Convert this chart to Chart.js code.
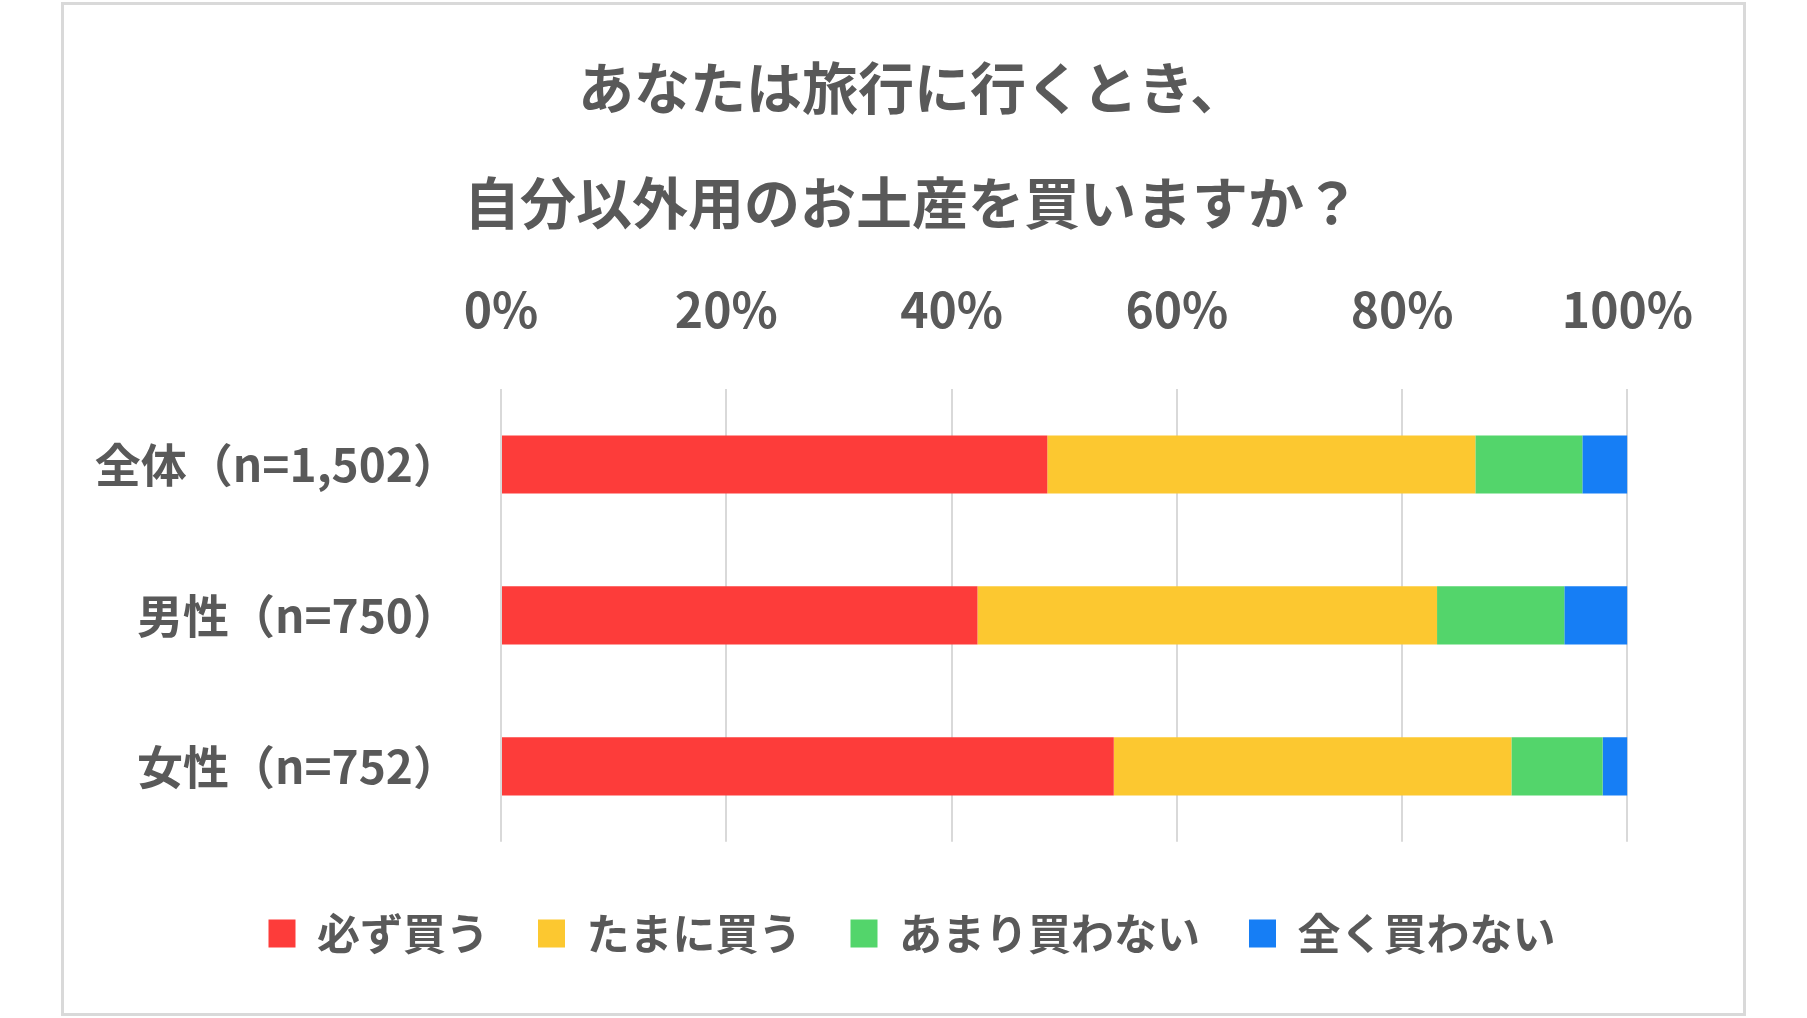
<!DOCTYPE html>
<html lang="ja">
<head>
<meta charset="utf-8">
<title>お土産アンケート</title>
<script src="https://cdn.jsdelivr.net/npm/chart.js@4.4.1/dist/chart.umd.min.js"></script>
<style>
  html, body { margin: 0; padding: 0; background: #fff; overflow: hidden; }
  #frame {
    position: absolute; left: 61px; top: 2px;
    width: 1679px; height: 1008px;
    border: 3px solid #d9d9d9;
  }
  #chart { display: block; }
</style>
</head>
<body>
<div id="frame"><canvas id="chart" width="1679" height="1008"></canvas></div>
<script>
// 値は全体を100%とした割合（%）
var categories = ['全体（n=1,502）', '男性（n=750）', '女性（n=752）'];
var seriesNames = ['必ず買う', 'たまに買う', 'あまり買わない', '全く買わない'];
var always = [48.5, 42.3, 54.4];
var sometimes = [38.0, 40.8, 35.3];
var rarely = [9.5, 11.3, 8.1];
var never = [4.0, 5.6, 2.2];
var xTicks = [0, 20, 40, 60, 80, 100];

var colors = ['#fd3c3a', '#fcc830', '#53d56b', '#167ef5'];
var textColor = '#595959';
var jpFont = "'Noto Sans CJK JP', 'Noto Sans', sans-serif";

// y軸ラベルが軸の幅からはみ出しても切れないようにする
var unclipLabels = {
    id: 'unclipLabels',
    afterLayout: function (chart) {
        chart.scales.y.left = 0;
    }
};

document.addEventListener('DOMContentLoaded', function () {
    var ctx = document.getElementById('chart').getContext('2d');
    var values = [always, sometimes, rarely, never];

    new Chart(ctx, {
        type: 'bar',
        data: {
            labels: categories,
            datasets: seriesNames.map(function (name, i) {
                return {
                    label: name,
                    data: values[i],
                    backgroundColor: colors[i],
                    borderWidth: 0,
                    categoryPercentage: 1,
                    barPercentage: 0.385
                };
            })
        },
        options: {
            indexAxis: 'y',
            responsive: false,
            animation: false,
            layout: { padding: { top: 0, left: 130, right: 113, bottom: 48 } },
            scales: {
                x: {
                    stacked: true,
                    position: 'top',
                    min: 0,
                    max: 100,
                    afterBuildTicks: function (scale) {
                        scale.ticks = xTicks.map(function (v) { return { value: v }; });
                    },
                    afterFit: function (scale) { scale.height = 114; },
                    grid: { color: '#d9d9d9', lineWidth: 2, drawTicks: false },
                    border: { display: false },
                    ticks: {
                        padding: 50,
                        color: textColor,
                        font: { family: jpFont, size: 48, weight: 'bold' },
                        callback: function (v) { return v + '%'; }
                    }
                },
                y: {
                    stacked: true,
                    afterFit: function (scale) { scale.width = 307; },
                    grid: { display: false },
                    border: { display: false },
                    ticks: {
                        padding: 34,
                        color: textColor,
                        font: { family: jpFont, size: 46, weight: 'bold' }
                    }
                }
            },
            plugins: {
                title: {
                    display: true,
                    text: ['あなたは旅行に行くとき、', '自分以外用のお土産を買いますか？'],
                    color: textColor,
                    font: { family: jpFont, size: 56, weight: 'bold', lineHeight: 115 / 56 },
                    padding: { top: 25, bottom: 15 }
                },
                legend: {
                    position: 'bottom',
                    // 空のタイトルでグラフと凡例の間隔をあける
                    title: { display: true, text: '', font: { size: 1 }, padding: { top: 20, bottom: 0 } },
                    labels: {
                        boxWidth: 27,
                        boxHeight: 28,
                        padding: 49,
                        color: textColor,
                        font: { family: jpFont, size: 43, weight: 'bold' }
                    }
                },
                tooltip: { enabled: false }
            }
        },
        plugins: [unclipLabels]
    });
});
</script>
</body>
</html>
